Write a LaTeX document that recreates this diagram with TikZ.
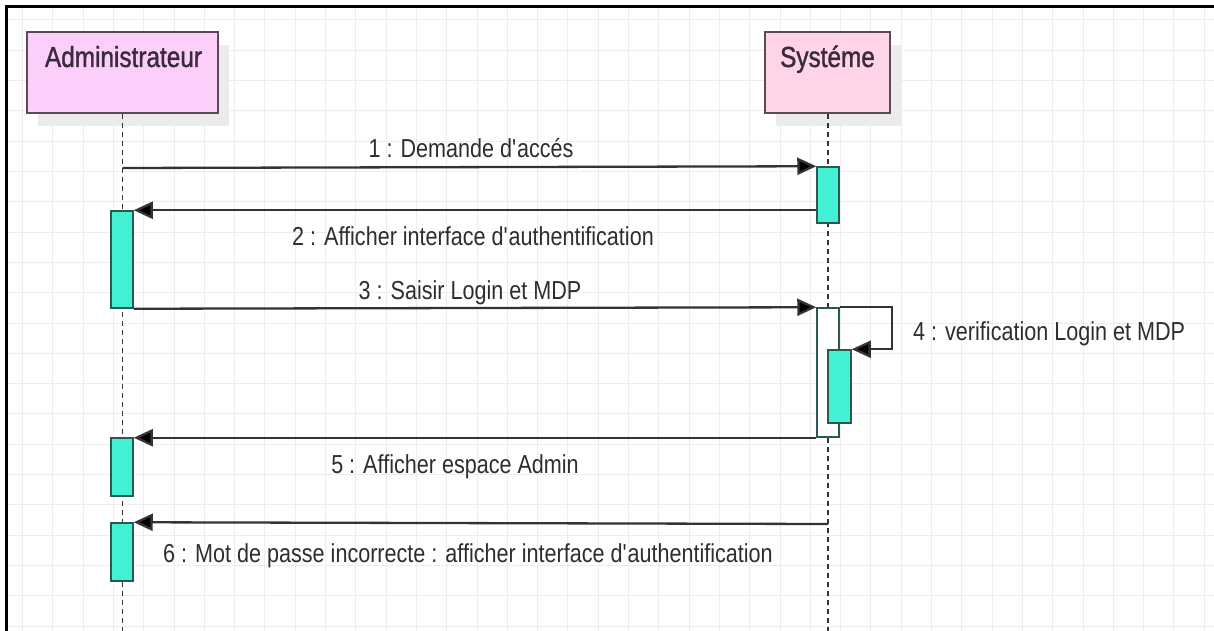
\documentclass[tikz,border=0pt]{standalone}
\usepackage{fontspec}
\setmainfont{Liberation Sans}[FakeStretch=0.83]
\newfontfamily\hdrfont{Liberation Sans}[FakeStretch=0.84,FakeBold=1.2]
\usetikzlibrary{arrows.meta,shadows}
\definecolor{adminpink}{HTML}{FCCFFA}
\definecolor{syspink}{HTML}{FFD3E8}
\definecolor{hdrborder}{HTML}{5A4A58}
\definecolor{hdrtext}{HTML}{3B2A3A}
\definecolor{turq}{HTML}{44F0D4}
\definecolor{actborder}{HTML}{285A50}
\definecolor{msgcol}{HTML}{333333}
\definecolor{labcol}{HTML}{2E2E2E}
\definecolor{gridcol}{HTML}{EDEDED}
\definecolor{shadowcol}{HTML}{EBEBEB}
\newcommand{\apos}{\textquotesingle}
\begin{document}
\begin{tikzpicture}[x=1pt,y=-1pt,
  gridline/.style={draw=gridcol,line width=1pt},
  actor/.style={rectangle,draw=hdrborder,line width=2pt,inner sep=0pt,
    general shadow={fill=shadowcol,shadow xshift=11pt,shadow yshift=-13pt}},
  hdr/.style={font=\hdrfont\fontsize{29}{32}\selectfont,text=hdrtext,inner sep=0pt},
  lifeline/.style={draw=msgcol,line width=1.5pt,dash pattern=on 5pt off 4pt},
  act/.style={rectangle,draw=actborder,fill=turq,line width=1.5pt,inner sep=0pt,minimum width=22pt},
  msg/.style={draw=msgcol,line width=2.3pt,-{Triangle[length=19pt,width=17pt,fill=black]}},
  lab/.style={font=\fontsize{26}{29}\selectfont,text=labcol,inner sep=0pt}]
\useasboundingbox (0,0) rectangle (1214,631);
\fill[white] (0,0) rectangle (1214,631);
% grid
\foreach \k in {0,...,39} { \draw[gridline] ({22.5+30.3*\k},8) -- ({22.5+30.3*\k},631); }
\foreach \k in {0,...,20} { \draw[gridline] (8,{20+30.3*\k}) -- (1214,{20+30.3*\k}); }
% frame
\draw[line width=3pt,black] (6.5,631) -- (6.5,6.5) -- (1214,6.5);
% headers
\node[actor,fill=adminpink,minimum width=191pt,minimum height=81pt] (admin) at (122.5,72.5) {};
\node[actor,fill=syspink,minimum width=125pt,minimum height=81pt] (sys) at (827.5,72.5) {};
\node[hdr,anchor=base] (admint) at (123.5,67) {Administrateur};
\node[hdr,anchor=base] (syst) at (827.5,67) {Systéme};
% lifelines
\coordinate (adminend) at (122.5,631);
\coordinate (sysend) at (828,631);
\draw[lifeline] (admin.south) -- (adminend);
\draw[lifeline] ([xshift=0.5pt]sys.south) -- (sysend);
% activations
\node[act,minimum height=56pt] (S1) at (828,195) {};
\node[act,minimum height=97pt] (A1) at (122,259.5) {};
\node[act,fill=white,minimum height=129pt] (S2) at (828,372.5) {};
\node[act,minimum width=23pt,minimum height=73pt] (S3) at (839.5,386.5) {};
\node[act,minimum height=58pt] (A2) at (122,467) {};
\node[act,minimum height=58pt] (A3) at (122,552) {};
% messages
\path (admin.south) ++(0,54) coordinate (m1);
\draw[msg] (m1) -- (S1.north west);
\draw[msg] (S1.west |- A1.north) -- (A1.north east);
\draw[msg] (A1.south east) -- (S2.north west);
\draw[msg] (S2.north east) -- ++(52,0) -- ++(0,42) -- (S3.north east);
\draw[msg] (S2.south west) -- (A2.north east |- S2.south west);
\path (sys.south) ++(0.5,410) coordinate (m6);
\draw[msg] (m6) -- (A3.north east);
% labels
\node[lab,anchor=base] (l1) at (471,158) {1 : Demande d\apos accés};
\node[lab,anchor=base] (l2) at (473,245) {2 : Afficher interface d\apos authentification};
\node[lab,anchor=base] (l3) at (470,299) {3 : Saisir Login et MDP};
\node[lab,anchor=base west] (l4) at (913,340) {4 : verification Login et MDP};
\node[lab,anchor=base] (l5) at (455,473) {5 : Afficher espace Admin};
\node[lab,anchor=base] (l6) at (468,562) {6 : Mot de passe incorrecte : afficher interface d\apos authentification};
\end{tikzpicture}
\end{document}
